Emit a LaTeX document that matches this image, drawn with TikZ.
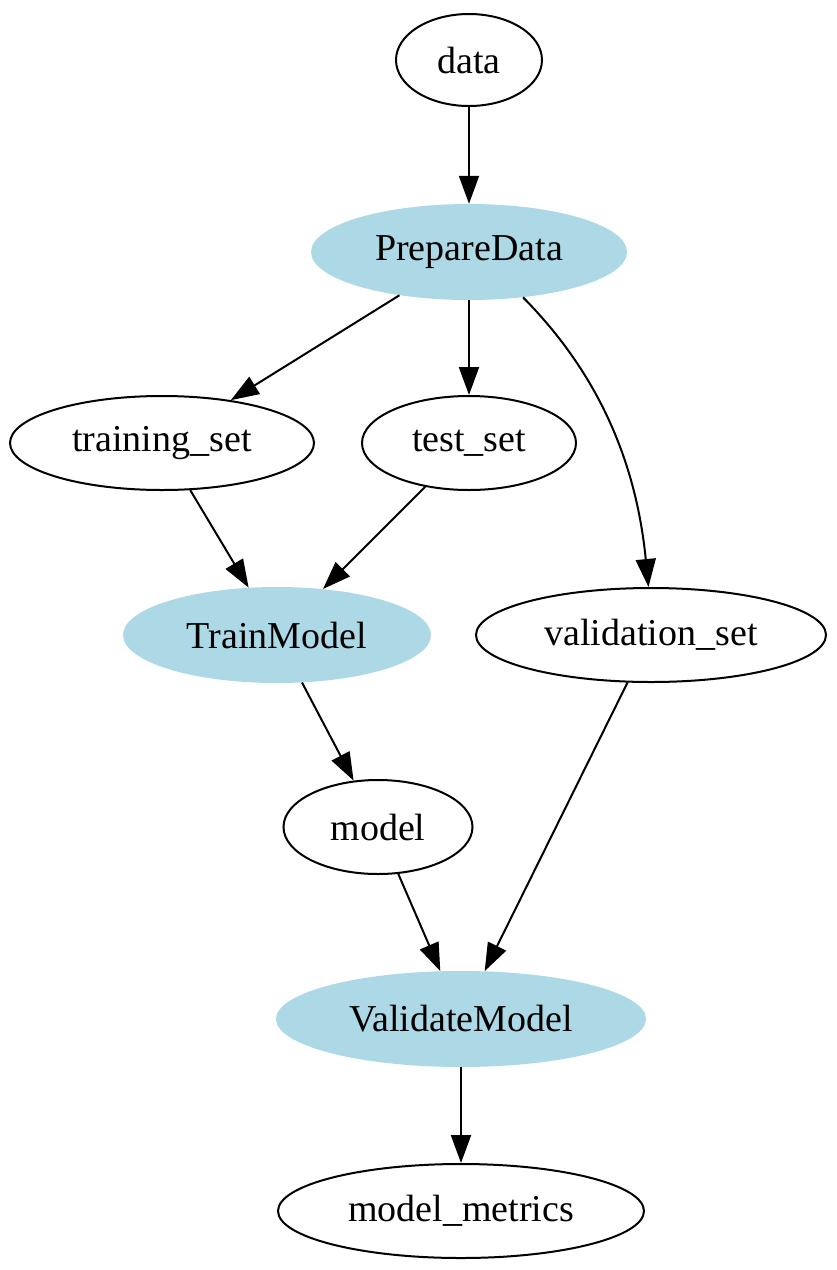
\documentclass[tikz,border=0pt]{standalone}
\usepackage{fontspec}
\setmainfont{Liberation Serif}
\usetikzlibrary{shapes.geometric,arrows.meta}
\definecolor{lblue}{RGB}{173,216,230}
\tikzset{
  nd/.style={ellipse, draw=black, line width=2pt, inner sep=0pt, font=\fontsize{38}{40}\selectfont},
  proc/.style={ellipse, fill=lblue, draw=none, inner sep=0pt, font=\fontsize{38}{40}\selectfont},
  edge/.style={line width=2pt, -{Triangle[length=28pt,width=20pt]}},
}
\begin{document}
\begin{tikzpicture}[x=1pt,y=-1pt]
\useasboundingbox (0,0) rectangle (836,1270);
\node[nd, minimum width=146pt, minimum height=92pt] (data) at (469,60) {data};
\node[proc, minimum width=316pt, minimum height=96pt] (prep) at (469,252) {PrepareData};
\node[nd, minimum width=304pt, minimum height=94pt] (train) at (162,443) {training\_set};
\node[nd, minimum width=214pt, minimum height=94pt] (test) at (469,443) {test\_set};
\node[proc, minimum width=308pt, minimum height=96pt] (tm) at (277,635) {TrainModel};
\node[nd, minimum width=350pt, minimum height=94pt] (val) at (651,635) {validation\_set};
\node[nd, minimum width=189pt, minimum height=94pt] (model) at (378,827) {model};
\node[proc, minimum width=370pt, minimum height=96pt] (vm) at (461,1019) {ValidateModel};
\node[nd, minimum width=366pt, minimum height=94pt] (mm) at (461,1211) {model\_metrics};
\draw[edge] (data) -- (prep);
\draw[edge] (prep) -- (train);
\draw[edge] (prep) -- (test);
\draw[edge] (prep.-40) .. controls (590,365) and (635,450) .. (val.93);
\draw[edge] (train) -- (tm);
\draw[edge] (test) -- (tm);
\draw[edge] (tm) -- (model);
\draw[edge] (model) -- (vm);
\draw[edge] (val) -- (vm);
\draw[edge] (vm) -- (mm);
\end{tikzpicture}
\end{document}
